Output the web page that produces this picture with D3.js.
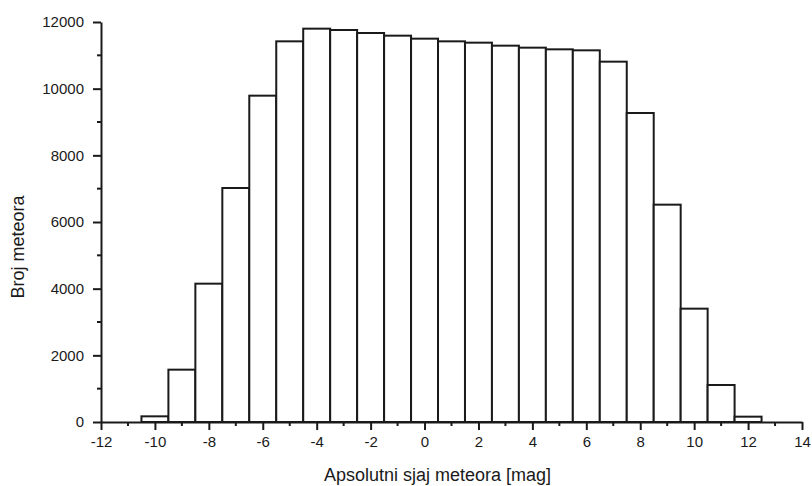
<!DOCTYPE html>
<html>
<head>
<meta charset="utf-8">
<script src="https://cdn.jsdelivr.net/npm/d3@7"></script>
<style>
  body { margin: 0; background: #fff; }
  svg { display: block; font-family: Arial, "Liberation Sans", sans-serif; }
</style>
</head>
<body>
<svg width="812" height="486"></svg>
<script>
// magnitude bins (bar centres) and meteor counts
var magnitudes = [-10, -9, -8, -7, -6, -5, -4, -3, -2, -1, 0, 1, 2, 3, 4, 5, 6, 7, 8, 9, 10, 11, 12];
var counts = [170, 1570, 4150, 7020, 9790, 11420, 11800, 11760, 11670, 11590, 11500, 11420,
  11380, 11290, 11230, 11180, 11150, 10810, 9270, 6520, 3400, 1110, 160];
var xTicks = [-12, -10, -8, -6, -4, -2, 0, 2, 4, 6, 8, 10, 12, 14];
var yTicks = [0, 2000, 4000, 6000, 8000, 10000, 12000];

var svg = d3.select("svg"),
  plotLeft = 101, plotRight = 802, plotTop = 22, plotBottom = 422;

var x = d3.scaleLinear().domain([-12, 14]).range([plotLeft, plotRight]);
var y = d3.scaleLinear().domain([0, 12000]).range([plotBottom, plotTop]);

var data = magnitudes.map(function(m, i) { return { m: m, c: counts[i] } });

svg.append("g")
  .selectAll("rect")
  .data(data)
  .enter().append("rect")
  .attr("x", function(d) { return x(d.m - 0.5) })
  .attr("width", function(d) { return x(d.m + 0.5) - x(d.m - 0.5) })
  .attr("y", function(d) { return y(d.c) })
  .attr("height", function(d) { return y(0) - y(d.c) })
  .attr("fill", "#fff")
  .attr("stroke", "#1a1a1a")
  .attr("stroke-width", 2);

// minor ticks
var xMinor = d3.range(-11, 14, 2);
var yMinor = d3.range(1000, 12000, 2000);
var plain = function(d) { return String(d) };

var gx = svg.append("g")
  .attr("transform", "translate(0," + plotBottom + ")")
  .call(d3.axisBottom(x).tickValues(xTicks).tickFormat(plain).tickSize(8).tickSizeOuter(0).tickPadding(6));
gx.append("g").selectAll("line").data(xMinor).enter().append("line")
  .attr("x1", x).attr("x2", x).attr("y1", 0).attr("y2", 4)
  .attr("stroke", "#1a1a1a").attr("stroke-width", 2);

var gy = svg.append("g")
  .attr("transform", "translate(" + plotLeft + ",0)")
  .call(d3.axisLeft(y).tickValues(yTicks).tickFormat(plain).tickSize(8).tickSizeOuter(0).tickPadding(9));
gy.append("g").selectAll("line").data(yMinor).enter().append("line")
  .attr("y1", y).attr("y2", y).attr("x1", 0).attr("x2", -4)
  .attr("stroke", "#1a1a1a").attr("stroke-width", 2);

[gx, gy].forEach(function(g) {
  g.select(".domain").attr("stroke", "#1a1a1a").attr("stroke-width", 2);
  g.selectAll(".tick line").attr("stroke", "#1a1a1a").attr("stroke-width", 2);
  g.selectAll(".tick text").attr("font-size", 15).attr("fill", "#1a1a1a")
    .attr("font-family", "Arial, 'Liberation Sans', sans-serif");
});

svg.append("text")
  .attr("x", (322 + 553) / 2)
  .attr("y", 481)
  .attr("text-anchor", "middle")
  .attr("font-size", 18)
  .attr("fill", "#1a1a1a")
  .text("Apsolutni sjaj meteora [mag]");

svg.append("text")
  .attr("transform", "translate(24,247) rotate(-90)")
  .attr("text-anchor", "middle")
  .attr("font-size", 18)
  .attr("fill", "#1a1a1a")
  .text("Broj meteora");
</script>
</body>
</html>
